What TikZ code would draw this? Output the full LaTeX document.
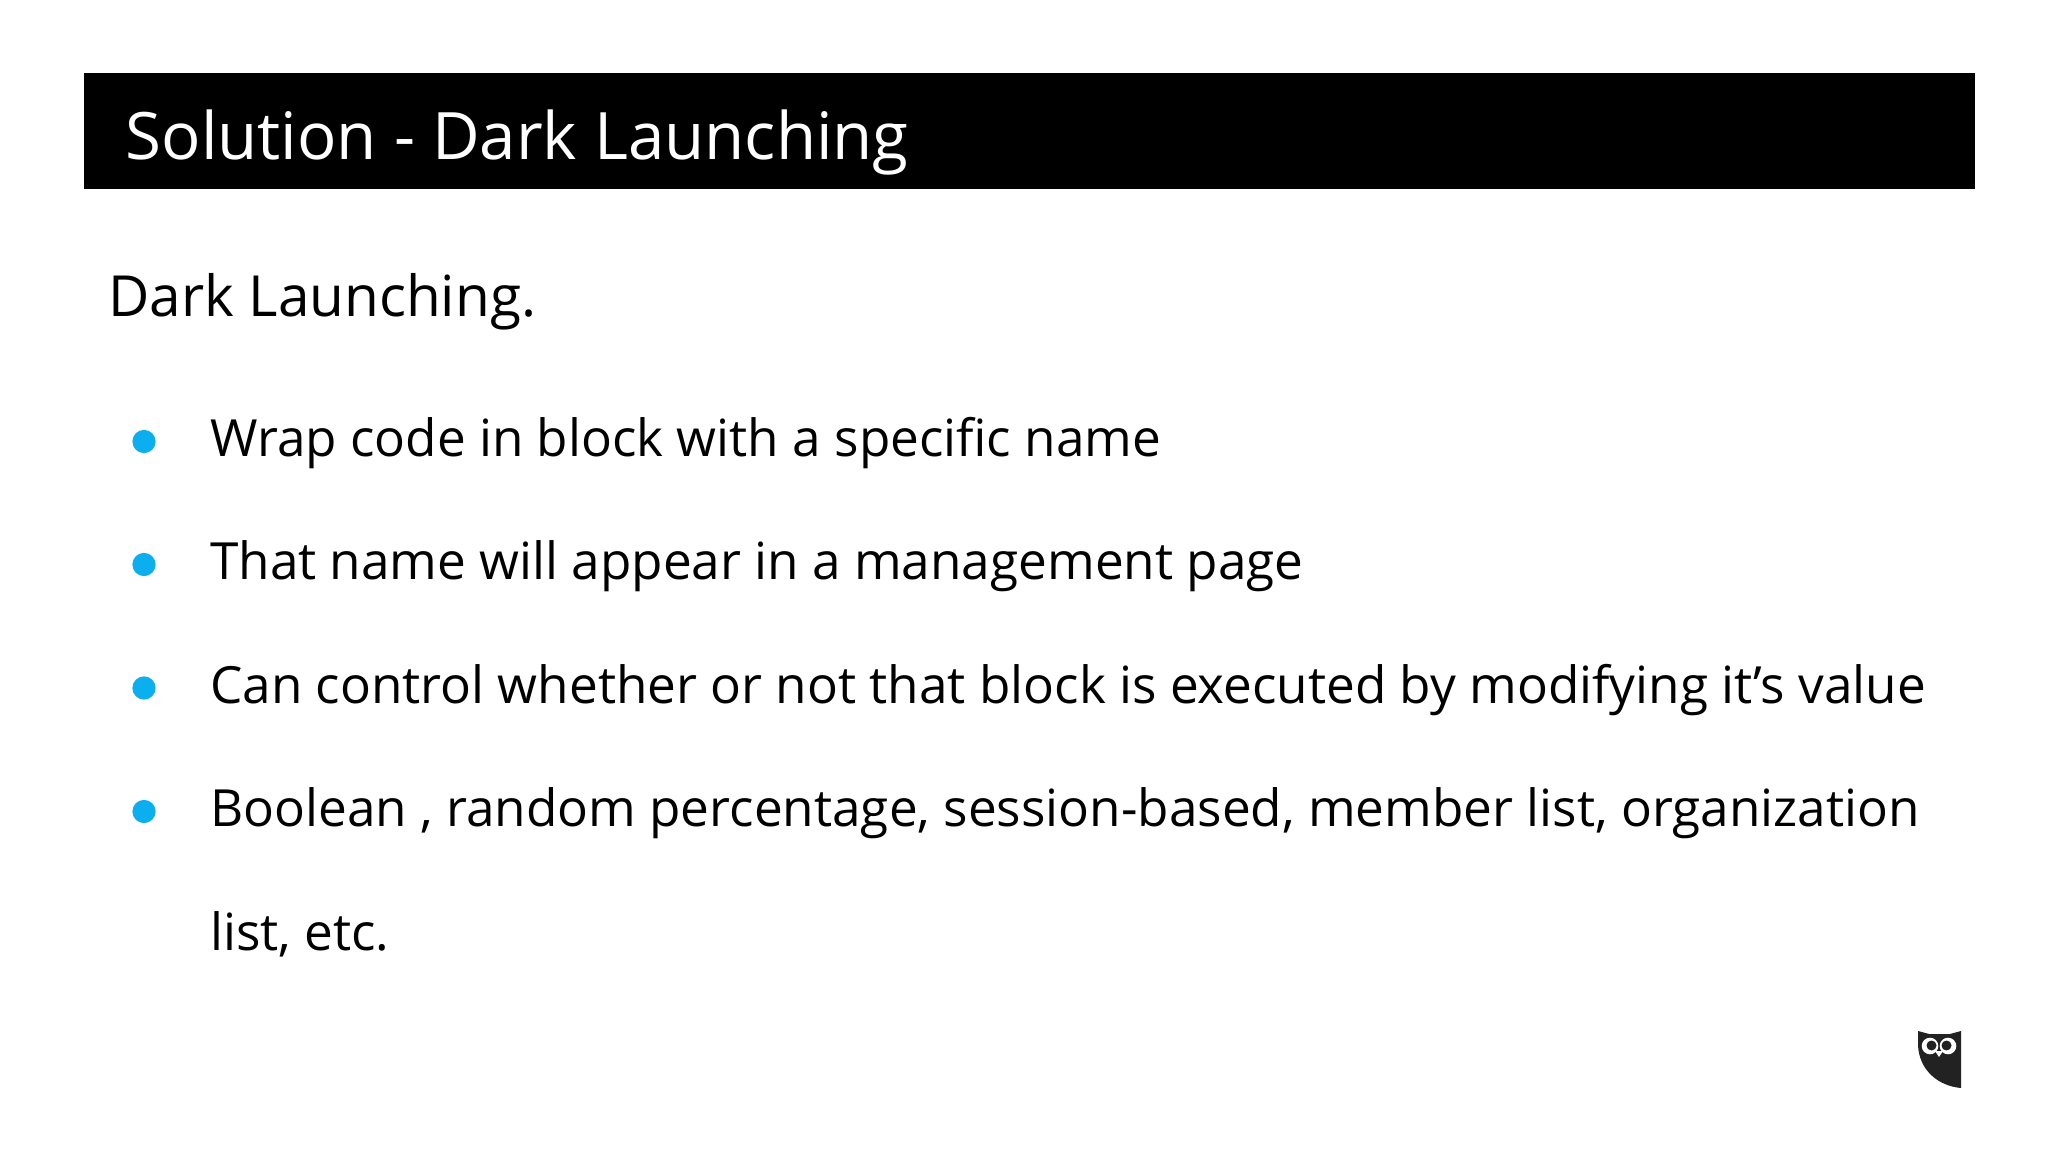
\documentclass[tikz,border=0pt]{standalone}
\usepackage{fontspec}
\setmainfont{Open Sans}
\definecolor{bulletblue}{HTML}{0BAEEF}
\definecolor{owlgrey}{HTML}{222222}
\tikzset{
	titletext/.style={anchor=base west,inner sep=0pt,text=white,font=\fontsize{18.6}{22}\selectfont},
	headingtext/.style={anchor=base west,inner sep=0pt,text=black,font=\fontsize{16.12}{19}\selectfont},
	bodytext/.style={anchor=base west,inner sep=0pt,text=black,font=\fontsize{14.58}{18}\selectfont},
	bulletdot/.style={circle,fill=bulletblue,inner sep=0pt,minimum size=6.6pt}
}
\begin{document}
\begin{tikzpicture}[x=0.01cm,y=-0.01cm]
	\useasboundingbox (0,0) rectangle (2048,1152);
	\fill[white] (0,0) rectangle (2048,1152);

	%title bar
	\node[fill=black,inner sep=0pt,minimum width=18.9cm,minimum height=1.16cm,anchor=north west] (titlebar) at (83.5,72.5) {};
	\node[titletext] (title) at (125,159.5) {Solution - Dark Launching};

	%heading
	\node[headingtext] (heading) at (107.5,317) {Dark Launching.};

	%bullets
	\node[bulletdot] (dotA) at (144,441.5) {};	\node[bodytext] (itemA) at (209.5,457) {Wrap code in block with a specific name};
	\node[bulletdot] (dotB) at (144,564.5) {};	\node[bodytext] (itemB) at (209.5,580) {That name will appear in a management page};
	\node[bulletdot] (dotC) at (144,688) {};	\node[bodytext] (itemC) at (209.5,703) {Can control whether or not that block is executed by modifying it’s value};
	\node[bulletdot] (dotD) at (144,811.5) {};	\node[bodytext] (itemD) at (209.5,826.5) {Boolean , random percentage, session-based, member list, organization};
	\node[bodytext] (itemDmore) at (209.5,950) {list, etc.};

	%owl
	\fill[owlgrey] (1918,1031) -- (1929,1034) -- (1950,1034) -- (1961,1031) -- (1961,1088)
		.. controls (1938,1086) and (1919,1070) .. (1918,1045) -- cycle;
	\fill[white] (1930,1046) circle (8.3);
	\fill[white] (1948,1046) circle (8.3);
	\fill[owlgrey] (1931.5,1045.5) circle (5);
	\fill[owlgrey] (1946.5,1045.5) circle (5);
	\fill[white] (1935,1051) -- (1943,1051) -- (1939,1057) -- cycle;
\end{tikzpicture}
\end{document}
